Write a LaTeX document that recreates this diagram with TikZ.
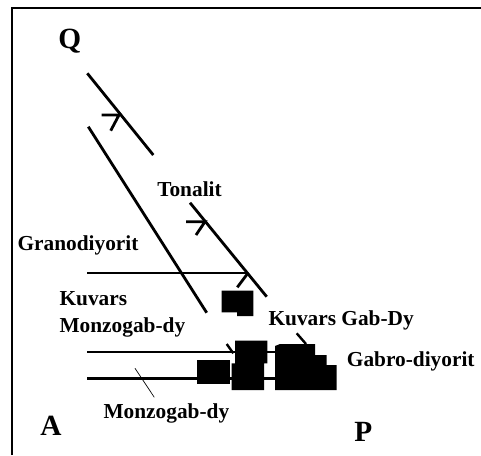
\documentclass[tikz,border=0pt]{standalone}
\usepackage{fontspec}
\setmainfont{Liberation Serif}
\begin{document}
\begin{tikzpicture}[x=0.75pt,y=0.75pt,yscale=-1,xscale=1,
  lbl/.style={anchor=base west,inner sep=0pt,font=\fontsize{16}{19}\selectfont\bfseries},
  apex/.style={anchor=base west,inner sep=0pt,font=\fontsize{22}{26}\selectfont\bfseries},
  trend/.style={line width=2.1pt},
  guide/.style={line width=1.8pt},
  blk/.style={fill=black,draw=none}]
\useasboundingbox (0,0) rectangle (481,455);

%Frame
\draw [line width=1.8pt] (12,455) -- (12,8) -- (481,8) ;

%Trend lines
\coordinate (t1a) at (87.3,73.3);
\coordinate (t1b) at (153.3,155);
\coordinate (t2a) at (88.3,126.7);
\coordinate (t2b) at (206.7,312.7);
\coordinate (t3a) at (190,202.7);
\coordinate (t3b) at (266.7,296.7);
\draw [trend] (t1a) -- (t1b) ;
\draw [trend] (t2a) -- (t2b) ;
\draw [trend] (t3a) -- (t3b) ;
%Arrow marks
\draw [trend] (101.7,115) -- (119,115) -- (110.7,130.7) ;
\draw [trend] (186,221.7) -- (205,221.7) -- (196,235) ;

%Straight Lines
\coordinate (h1a) at (87.3,273);
\coordinate (h1b) at (248,273);
\draw [guide] (h1a) -- (h1b) ;
\draw [trend] (h1b) -- (237.3,287.3) ;
\coordinate (h2a) at (87.3,351.7);
\coordinate (h2b) at (276,351.7);
\coordinate (h3a) at (87.3,378.5);
\coordinate (h3b) at (276,378.5);
\draw [guide] (h2a) -- (h2b) ;
\draw [guide] (h3a) -- (h3b) ;
\draw [guide] (226.7,344) -- (233.3,353.3) ;
\draw [guide] (296.7,333.3) -- (306,344) ;
%thin pointer
\draw [line width=0.5pt] (135,368.3) -- (154.3,397.3) ;

%Blocks
\path [blk] (221.7,290.7) rectangle (253.3,312.3) (237,312) rectangle (253.3,316) ;
\path [blk] (196.7,360) rectangle (230,384.3) ;
\path [blk] (235,340.7) -- (267.3,340.7) -- (267.3,363.3) -- (264,363.3) -- (264,390)
  -- (231.7,390) -- (231.7,363.3) -- (235,363.3) -- cycle ;
\path [blk] (275,346) -- (280,344) -- (315,344) -- (315,355) -- (326.7,355) -- (326.7,365)
  -- (336.7,365) -- (336.7,390) -- (275,390) -- cycle ;

% Text Node
\node [apex] (q) at (58,48) {Q};
\node [apex] (a) at (40,435) {A};
\node [apex] (p) at (354,441) {P};
\node [lbl] (tonalit) at (157,196.7) {Tonalit};
\node [lbl] (granodiyorit) at (17.3,250) {Granodiyorit};
\node [lbl] (kuvars) at (59.3,305) {Kuvars};
\node [lbl] (kmonzo) at (59.3,332) {Monzogab-dy};
\node [lbl] (kgabdy) at (268.3,325) {Kuvars Gab-Dy};
\node [lbl] (gabro) at (346.7,366.7) {Gabro-diyorit};
\node [lbl] (monzo) at (103.3,418) {Monzogab-dy};

\end{tikzpicture}
\end{document}
